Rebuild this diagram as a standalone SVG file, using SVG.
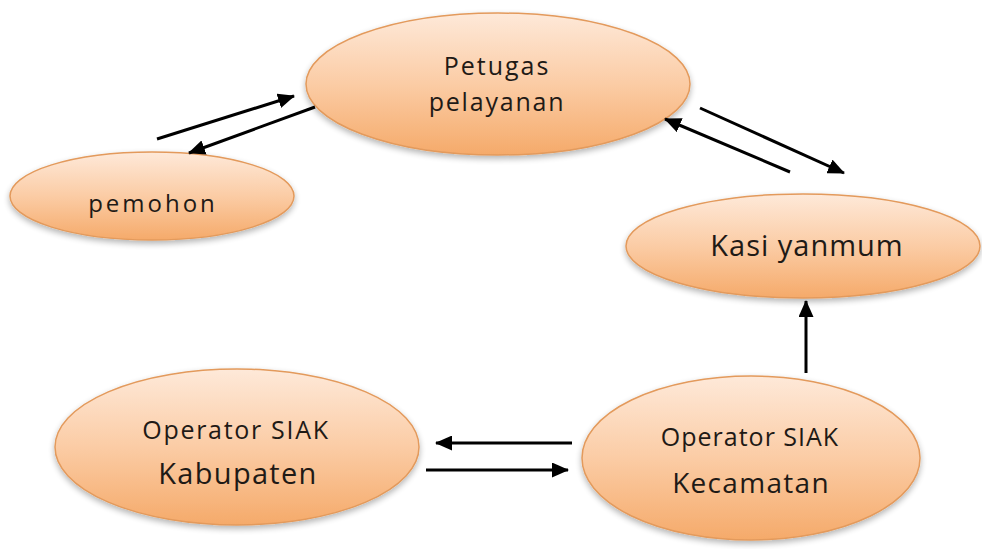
<svg xmlns="http://www.w3.org/2000/svg" width="982" height="549" viewBox="0 0 982 549">
<defs>
<linearGradient id="g" x1="0" y1="0" x2="0" y2="1">
<stop offset="0" stop-color="#fee9d9"/>
<stop offset="0.5" stop-color="#fbcca5"/>
<stop offset="1" stop-color="#f5aa6a"/>
</linearGradient>
<filter id="sh" x="-10%" y="-10%" width="120%" height="130%">
<feGaussianBlur in="SourceAlpha" stdDeviation="3"/>
<feOffset dx="0" dy="3"/>
<feComponentTransfer><feFuncA type="linear" slope="0.3"/></feComponentTransfer>
<feMerge><feMergeNode/><feMergeNode in="SourceGraphic"/></feMerge>
</filter>
<marker id="ah" markerWidth="17" markerHeight="15" refX="16" refY="7.5" orient="auto" markerUnits="userSpaceOnUse" viewBox="0 0 17 15">
<path d="M0,0 L17,7.5 L0,15 z" fill="#000"/>
</marker>
</defs>
<style>
.n{fill:url(#g);stroke:#e39a5c;stroke-width:1.5;filter:url(#sh)}
.t{font-family:"Open Sans","Liberation Sans",sans-serif;fill:#1f1a16;text-anchor:middle}
.c line{stroke:#000;stroke-width:3;marker-end:url(#ah)}
</style>
<rect width="982" height="549" fill="#fff"/>
<g id="petugas">
<ellipse class="n" cx="498" cy="84" rx="192" ry="71"/>
<text class="t" x="497" y="75" font-size="25" letter-spacing="2">Petugas</text>
<text class="t" x="497" y="111" font-size="25" letter-spacing="1.8">pelayanan</text>
</g>
<g id="pemohon">
<ellipse class="n" cx="152" cy="196" rx="142" ry="44"/>
<text class="t" x="153" y="212" font-size="24" letter-spacing="3">pemohon</text>
</g>
<g id="kasi">
<ellipse class="n" cx="803" cy="246" rx="177" ry="52"/>
<text class="t" x="807" y="256" font-size="29" letter-spacing="1">Kasi yanmum</text>
</g>
<g id="kabupaten">
<ellipse class="n" cx="237" cy="447" rx="182" ry="78"/>
<text class="t" x="236" y="439" font-size="25" letter-spacing="1.7">Operator SIAK</text>
<text class="t" x="238" y="484" font-size="29" letter-spacing="1.3">Kabupaten</text>
</g>
<g id="kecamatan">
<ellipse class="n" cx="751" cy="458" rx="169" ry="82"/>
<text class="t" x="750" y="446" font-size="25" letter-spacing="1">Operator SIAK</text>
<text class="t" x="751" y="493" font-size="28" letter-spacing="1.3">Kecamatan</text>
</g>
<g class="c" id="connectors">
<line x1="157" y1="139" x2="294" y2="96"/>
<line x1="315" y1="107" x2="189" y2="153"/>
<line x1="700" y1="108" x2="844" y2="173"/>
<line x1="790" y1="172" x2="665" y2="119"/>
<line x1="806" y1="373" x2="806" y2="301"/>
<line x1="572" y1="443" x2="436" y2="443"/>
<line x1="426" y1="470" x2="568" y2="470"/>
</g>
</svg>
